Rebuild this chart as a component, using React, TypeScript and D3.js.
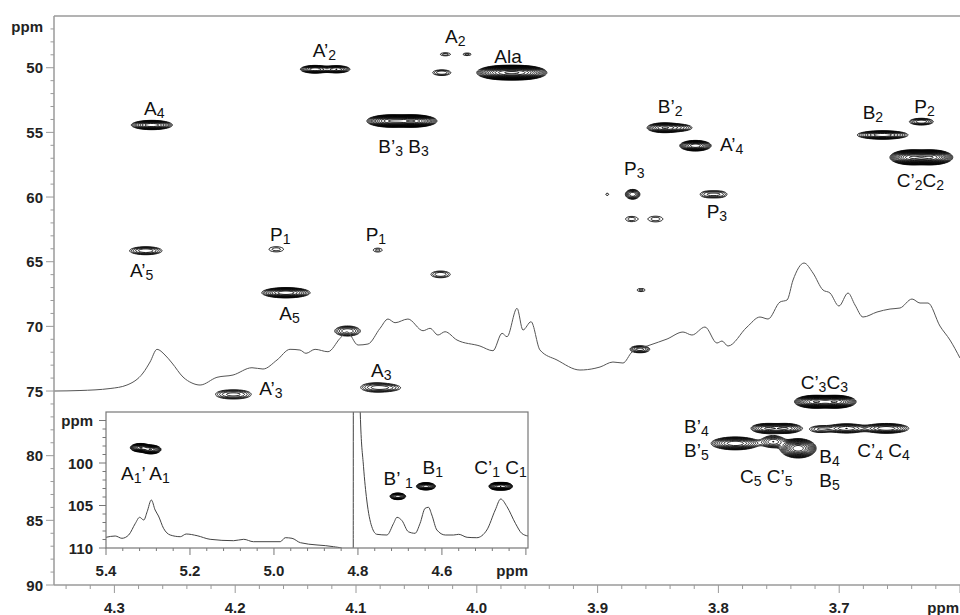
import React, { useEffect, useRef } from 'react';
import * as d3 from 'd3';

const W = 960;
const H = 615;

// axis ticks (ppm)
const xMajor = [4.3, 4.2, 4.1, 4.0, 3.9, 3.8, 3.7];
const yMajor = [50, 55, 60, 65, 70, 75, 80, 85, 90];
const insetXMajor = [5.4, 5.2, 5.0, 4.8, 4.6];
const insetYMajor = [100, 105, 110];

// cross peaks: [1H ppm, 13C ppm, half width 1H, half width 13C, contour levels]
const mainPeaks: number[][] = [
  [4.134, 50.12, 0.012, 0.3, 8], [4.116, 50.12, 0.011, 0.28, 7], // A'2
  [4.269, 54.43, 0.017, 0.36, 9], // A4
  [4.071, 54.12, 0.02, 0.48, 12], [4.053, 54.12, 0.02, 0.48, 13], // B'3 B3
  [4.026, 48.96, 0.0042, 0.12, 1.5], [4.008, 48.96, 0.0033, 0.1, 1.4], // A2
  [4.029, 50.38, 0.0075, 0.22, 3],
  [3.978, 50.38, 0.022, 0.55, 13], [3.964, 50.38, 0.022, 0.55, 13], // Ala
  [3.845, 54.64, 0.014, 0.38, 8], [3.832, 54.64, 0.01, 0.25, 4], // B'2
  [3.819, 56.03, 0.013, 0.41, 10], // A'4
  [3.871, 59.79, 0.006, 0.38, 6], // P3
  [3.892, 59.79, 0.0012, 0.09, 0.6],
  [3.809, 59.79, 0.006, 0.24, 2.5], [3.799, 59.79, 0.006, 0.24, 2.5], // P3
  [3.872, 61.7, 0.0048, 0.2, 1.6], [3.852, 61.7, 0.006, 0.22, 1.6],
  [3.864, 67.19, 0.0033, 0.12, 1.4],
  [3.868, 71.77, 0.005, 0.22, 3], [3.862, 71.77, 0.005, 0.22, 3],
  [3.664, 55.2, 0.021, 0.33, 8], // B2
  [3.632, 54.17, 0.0099, 0.26, 5], // P2
  [3.64, 56.93, 0.018, 0.58, 13], [3.624, 56.93, 0.018, 0.58, 13], // C'2 C2
  [4.274, 64.15, 0.0134, 0.31, 5], // A'5
  [4.166, 64.04, 0.006, 0.2, 1.5], [4.082, 64.1, 0.0037, 0.15, 1.4], // P1
  [4.03, 65.98, 0.008, 0.26, 3],
  [4.158, 67.4, 0.02, 0.4, 9], // A5
  [4.107, 70.36, 0.0106, 0.39, 5],
  [4.207, 75.26, 0.009, 0.29, 3], [4.196, 75.26, 0.009, 0.29, 3], // A'3
  [4.084, 74.72, 0.012, 0.35, 4], [4.072, 74.75, 0.008, 0.2, 2], // A3
  [3.72, 75.83, 0.017, 0.5, 12], [3.703, 75.83, 0.017, 0.5, 12], // C'3 C3
  [3.76, 77.89, 0.013, 0.38, 7], [3.744, 77.89, 0.013, 0.38, 7], // B'4
  [3.716, 77.95, 0.008, 0.25, 3],
  [3.694, 77.89, 0.0156, 0.36, 6], [3.661, 77.89, 0.0186, 0.38, 7], // C'4 C4
  [3.786, 79.05, 0.02, 0.5, 9], // B'5
  [3.7546, 78.92, 0.01, 0.46, 6],
  [3.734, 79.43, 0.0149, 0.75, 12], // B4 B5
];

const insetPeaks: number[][] = [
  [5.318, 98.2, 0.024, 0.5, 10], [5.293, 98.41, 0.024, 0.52, 10], // A1' A1
  [4.705, 103.92, 0.0186, 0.39, 9], // B'1
  [4.638, 102.74, 0.0226, 0.435, 10], // B1
  [4.468, 102.74, 0.02, 0.44, 10], [4.452, 102.74, 0.02, 0.44, 10], // C'1 C1
];

// "_" marks a subscript character
const mainLabels: [string, number, number][] = [
  ['A’_2', 4.1358, 49.19], ['A_2', 4.0263, 48.11], ['A_4', 4.2755, 53.66],
  ['B’_3 B_3', 4.0815, 56.62], ['P_1', 4.1712, 63.38], ['P_1', 4.092, 63.38],
  ['A’_5', 4.2871, 66.16], ['A_5', 4.1635, 69.51], ['A_3', 4.0876, 73.9],
  ['A’_3', 4.18, 75.31], ['Ala', 3.9855, 49.66], ['B’_2', 3.8502, 53.53],
  ['A’_4', 3.7987, 56.42], ['P_3', 3.8781, 58.3], ['P_3', 3.8097, 61.65],
  ['B_2', 3.6806, 53.97], ['P_2', 3.6378, 53.53], ['C’_2C_2', 3.6524, 59.2],
  ['C’_3C_3', 3.7319, 74.87], ['B’_4', 3.8285, 78.23], ['B’_5', 3.8285, 80.08],
  ['C_5 C’_5', 3.7821, 82.14], ['B_4', 3.7165, 80.55], ['B_5', 3.7165, 82.45],
  ['C’_4 C_4', 3.685, 80.13],
];

const insetLabels: [string, number, number][] = [
  ['A_1’ A_1', 5.3643, 102.0], ['B’ _1', 4.739, 102.59],
  ['B_1', 4.6462, 101.29], ['C’_1 C_1', 4.5231, 101.29],
];

// 1D proton projection: [ppm, intensity]
const protonTrace: [number, number][] = [
  [4.35, 0], [4.3285, 0.5], [4.3036, 2.5], [4.2896, 6], [4.2763, 18], [4.2705, 29],
  [4.2647, 41.7], [4.2581, 36], [4.2523, 28], [4.2432, 14], [4.2358, 8], [4.2291, 6],
  [4.2151, 13.7], [4.2018, 16], [4.1861, 23.3], [4.177, 22], [4.1654, 31], [4.1546, 41.7],
  [4.1464, 41], [4.1414, 37.7], [4.1339, 41.7], [4.1232, 39.3], [4.1132, 52.7], [4.1075, 59.3],
  [4.0983, 46], [4.0901, 47], [4.0801, 62.7], [4.0735, 72], [4.0677, 68.3], [4.057, 72],
  [4.0445, 60.3], [4.0387, 62.7], [4.0321, 56], [4.0263, 59.3], [4.0164, 51], [3.9974, 45],
  [3.9866, 40.3], [3.9791, 57.7], [3.975, 54.3], [3.9667, 82.7], [3.9618, 61], [3.9551, 69.3],
  [3.9477, 41], [3.9336, 31], [3.9146, 21], [3.9022, 22.7], [3.898, 24], [3.8873, 29],
  [3.879, 28], [3.8715, 39], [3.8566, 46], [3.8425, 52], [3.8293, 59], [3.8219, 56],
  [3.8111, 64], [3.8012, 48], [3.797, 50], [3.7921, 45], [3.7763, 64], [3.7656, 74],
  [3.7589, 72], [3.749, 89], [3.7432, 91], [3.7382, 111], [3.7291, 128], [3.7217, 118],
  [3.7134, 101], [3.7076, 98], [3.7002, 85], [3.6927, 98], [3.6869, 86], [3.6803, 74],
  [3.6687, 79], [3.6579, 82], [3.6497, 83], [3.6397, 92], [3.6331, 88], [3.6265, 88],
  [3.6166, 65], [3.6083, 51], [3.6, 33],
];

const insetTrace: [number, number][] = [
  [5.4, 10.7], [5.378, 12], [5.362, 9.7], [5.346, 13], [5.33, 24.7], [5.32, 30.7],
  [5.31, 28], [5.302, 36.3], [5.292, 48], [5.283, 38], [5.275, 32], [5.263, 19.7],
  [5.247, 13], [5.223, 11.3], [5.209, 14], [5.183, 12.3], [5.152, 8.7], [5.096, 7.3],
  [5.072, 8.7], [5.049, 6.3], [4.985, 6.3], [4.973, 10.3], [4.957, 9.7], [4.937, 5.3],
  [4.858, 1.3], [4.838, -0.3], [4.823, -4], [4.8112, -4], [4.8108, 400], [4.7985, 400],
  [4.7955, 160], [4.7945, 135], [4.7867, 81.3], [4.779, 48], [4.767, 21.3], [4.755, 13.7],
  [4.731, 13], [4.715, 24.7], [4.707, 30.7], [4.695, 27.3], [4.68, 16.3], [4.664, 14.7],
  [4.652, 24.7], [4.64, 39.7], [4.632, 40.7], [4.624, 33], [4.612, 18], [4.592, 13],
  [4.572, 13], [4.56, 13.7], [4.54, 10.7], [4.517, 10.3], [4.493, 18], [4.473, 38],
  [4.46, 49], [4.445, 41.3], [4.425, 24.7], [4.41, 14.7], [4.395, 12],
];

const F = 1.3; // contour level factor
const NLEV = 18;
const FONT = '"Liberation Sans", Arial, Helvetica, sans-serif';
const AXIS = '#9a9a9a';

function contourPath(peaks: number[][], xs: any, ys: any, x0: number, x1: number, y0: number, y1: number) {
  const dx = 1, dy = 0.5;
  const nx = Math.round((x1 - x0) / dx) + 1;
  const ny = Math.round((y1 - y0) / dy) + 1;
  const grid = new Float64Array(nx * ny);
  for (const [h, c, wh, wc, n] of peaks) {
    const A = Math.pow(F, n);
    const k = Math.sqrt(2 * n * Math.log(F));
    const cx = xs(h), cy = ys(c);
    const sx = Math.abs(xs(h + wh) - cx) / k;
    const sy = Math.abs(ys(c + wc) - cy) / k;
    const i0 = Math.max(0, Math.floor((cx - 4 * sx - x0) / dx));
    const i1 = Math.min(nx - 1, Math.ceil((cx + 4 * sx - x0) / dx));
    const j0 = Math.max(0, Math.floor((cy - 4 * sy - y0) / dy));
    const j1 = Math.min(ny - 1, Math.ceil((cy + 4 * sy - y0) / dy));
    for (let j = j0; j <= j1; j++) {
      const v = (y0 + j * dy - cy) / sy;
      for (let i = i0; i <= i1; i++) {
        const u = (x0 + i * dx - cx) / sx;
        grid[j * nx + i] += A * Math.exp(-0.5 * (u * u + v * v));
      }
    }
  }
  const levels = d3.range(NLEV).map((i) => Math.pow(F, i));
  const polys = d3.contours().size([nx, ny]).thresholds(levels)(grid as any);
  const proj = d3.geoTransform({
    point(x: number, y: number) {
      (this as any).stream.point(x0 + (x - 0.5) * dx, y0 + (y - 0.5) * dy);
    },
  });
  const path = d3.geoPath(proj);
  return polys.map((p) => path(p as any) || '').join('');
}

function addLabel(g: any, s: string, px: number, py: number, size: number) {
  const parts: [string, boolean][] = [];
  for (let k = 0; k < s.length; k++) {
    const sub = s[k] === '_';
    const ch = sub ? s[++k] : s[k];
    if (parts.length && parts[parts.length - 1][1] === sub) parts[parts.length - 1][0] += ch;
    else parts.push([ch, sub]);
  }
  const t = g.append('text')
    .attr('x', px).attr('y', py)
    .attr('font-family', FONT).attr('font-size', size)
    .attr('fill', '#111').style('white-space', 'pre');
  let shift = 0;
  parts.forEach(([txt, sub]) => {
    const target = sub ? 3 : 0;
    t.append('tspan')
      .attr('dy', target - shift)
      .attr('font-size', sub ? size * 0.74 : size)
      .text(txt);
    shift = target;
  });
}

export default function App() {
  const ref = useRef<SVGSVGElement>(null);

  useEffect(() => {
    const svg = d3.select(ref.current);
    svg.selectAll('*').remove();

    const left = 54, right = 960, top = 16, bottom = 585;
    const x = d3.scaleLinear().domain([4.35, 3.6]).range([left, right]);
    const y = d3.scaleLinear().domain([46, 90]).range([top, bottom]);
    const ty = d3.scaleLinear().domain([0, 100]).range([y(75), y(75) - 100]);

    const iL = 106, iR = 528, iT = 412, iB = 548;
    const xi = d3.scaleLinear().domain([5.4, 4.395]).range([iL, iR]);
    const yi = d3.scaleLinear().domain([94, 110]).range([iT, iB]);
    const tyi = d3.scaleLinear().domain([0, 100]).range([iB, iB - 100]);

    svg.append('rect').attr('width', W).attr('height', H).attr('fill', '#fff');

    const defs = svg.append('defs');
    defs.append('clipPath').attr('id', 'plotClip').append('rect')
      .attr('x', left).attr('y', top).attr('width', right - left).attr('height', bottom - top);
    defs.append('clipPath').attr('id', 'insetClip').append('rect')
      .attr('x', iL).attr('y', iT).attr('width', iR - iL).attr('height', iB - iT);

    // main spectrum
    const plot = svg.append('g').attr('clip-path', 'url(#plotClip)');
    plot.append('path')
      .attr('d', contourPath(mainPeaks, x, y, left, right, top, bottom))
      .attr('fill', 'none').attr('stroke', '#000').attr('stroke-width', 0.85);

    const line = d3.line<[number, number]>()
      .x((d) => x(d[0])).y((d) => ty(d[1])).curve(d3.curveMonotoneX);
    plot.append('path').attr('d', line(protonTrace))
      .attr('fill', 'none').attr('stroke', '#555').attr('stroke-width', 1);

    // frame and axes
    const ax = svg.append('g').attr('stroke', AXIS).attr('stroke-width', 1.5);
    ax.append('line').attr('x1', left).attr('x2', right).attr('y1', top).attr('y2', top);
    ax.append('line').attr('x1', left).attr('x2', right).attr('y1', bottom).attr('y2', bottom);
    ax.append('line').attr('x1', left).attr('x2', left).attr('y1', top).attr('y2', bottom);

    const xMinor = d3.range(180, 218).map((i) => i / 50);
    ax.selectAll('.xt').data(xMinor).enter().append('line')
      .attr('x1', (d) => x(d)).attr('x2', (d) => x(d))
      .attr('y1', bottom).attr('y2', (d, i) => bottom + ((180 + i) % 5 === 0 ? 8 : 4))
      .attr('stroke-width', 1);
    const yMinor = d3.range(47, 91);
    ax.selectAll('.yt').data(yMinor).enter().append('line')
      .attr('y1', (d) => y(d)).attr('y2', (d) => y(d))
      .attr('x1', left).attr('x2', (d) => left - (d % 5 === 0 ? 8 : 3.5))
      .attr('stroke-width', 1);

    const txt = svg.append('g').attr('font-family', FONT).attr('font-weight', 'bold')
      .attr('font-size', 15).attr('fill', '#222');
    txt.selectAll('.xl').data(xMajor).enter().append('text')
      .attr('x', (d) => x(d)).attr('y', 613).attr('text-anchor', 'middle')
      .text((d) => d.toFixed(1));
    txt.append('text').attr('x', x(3.6) - 1).attr('y', 613).attr('text-anchor', 'end').text('ppm');
    txt.selectAll('.yl').data(yMajor).enter().append('text')
      .attr('x', 43).attr('y', (d) => y(d) + 5.5).attr('text-anchor', 'end')
      .text((d) => String(d));
    txt.append('text').attr('x', 43).attr('y', y(47) + 3).attr('text-anchor', 'end').text('ppm');

    // inset: anomeric region
    const inset = svg.append('g');
    inset.append('rect').attr('x', iL).attr('y', iT).attr('width', iR - iL).attr('height', iB - iT)
      .attr('fill', '#fff');
    const ic = inset.append('g').attr('clip-path', 'url(#insetClip)');
    ic.append('path')
      .attr('d', contourPath(insetPeaks, xi, yi, iL, iR, iT, iB))
      .attr('fill', 'none').attr('stroke', '#000').attr('stroke-width', 0.85);
    const iline = d3.line<[number, number]>()
      .x((d) => xi(d[0])).y((d) => tyi(d[1])).curve(d3.curveMonotoneX);
    ic.append('path').attr('d', iline(insetTrace))
      .attr('fill', 'none').attr('stroke', '#444').attr('stroke-width', 1);
    inset.append('rect').attr('x', iL).attr('y', iT).attr('width', iR - iL).attr('height', iB - iT)
      .attr('fill', 'none').attr('stroke', '#777').attr('stroke-width', 1.2);

    const iax = inset.append('g').attr('stroke', '#777').attr('stroke-width', 1);
    const ixMinor = d3.range(0, 26).map((i) => 5.4 - i * 0.04);
    iax.selectAll('.ixt').data(ixMinor).enter().append('line')
      .attr('x1', (d) => xi(d)).attr('x2', (d) => xi(d))
      .attr('y1', iB).attr('y2', (d, i) => iB + (i % 5 === 0 ? 7 : 3));
    const iyMinor = d3.range(95, 111);
    iax.selectAll('.iyt').data(iyMinor).enter().append('line')
      .attr('y1', (d) => yi(d)).attr('y2', (d) => yi(d))
      .attr('x1', iL).attr('x2', (d) => iL - (d % 5 === 0 ? 7 : 3.5));

    txt.selectAll('.ixl').data(insetXMajor).enter().append('text')
      .attr('x', (d) => xi(d)).attr('y', 576).attr('text-anchor', 'middle')
      .text((d) => d.toFixed(1));
    txt.append('text').attr('x', iR).attr('y', 576).attr('text-anchor', 'end').text('ppm');
    txt.selectAll('.iyl').data(insetYMajor).enter().append('text')
      .attr('x', 93).attr('y', (d) => yi(d) + 5.5).attr('text-anchor', 'end')
      .text((d) => String(d));
    txt.append('text').attr('x', 93).attr('y', yi(95) + 5).attr('text-anchor', 'end').text('ppm');

    // peak assignments
    const lab = svg.append('g');
    mainLabels.forEach(([s, h, c]) => addLabel(lab, s, x(h), y(c), 19));
    insetLabels.forEach(([s, h, c]) => addLabel(lab, s, xi(h), yi(c), 19));
  }, []);

  return (
    <svg ref={ref} width={W} height={H}
      style={{ position: 'absolute', left: 0, top: 0, display: 'block' }} />
  );
}
